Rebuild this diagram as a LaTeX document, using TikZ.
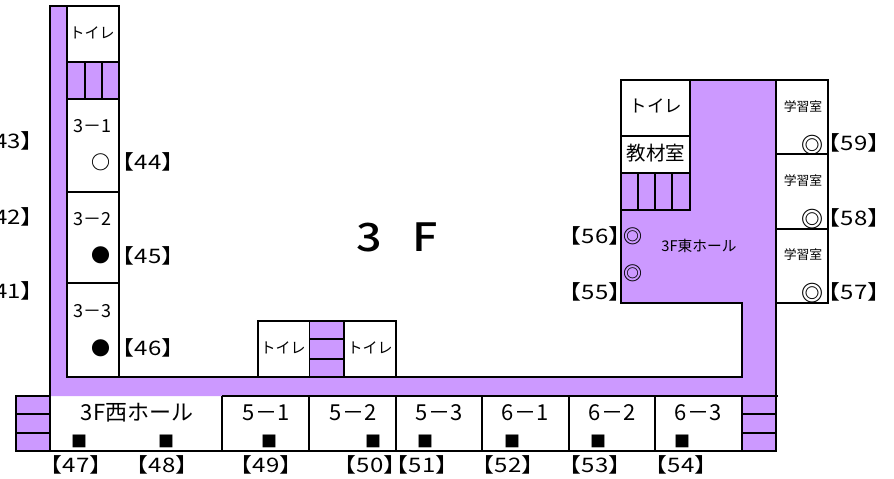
\documentclass[tikz,border=0pt]{standalone}
\usepackage{fontspec}
\setmainfont{Noto Sans CJK JP}
\newfontfamily\widefont[FakeStretch=1.2]{Noto Sans CJK JP}
\newfontfamily\titlefont[FakeStretch=1.15]{Noto Sans CJK JP Medium}
\definecolor{hallcol}{HTML}{CC99FF}
\tikzset{
  wall/.style={line width=1.7pt},
  stairs/.style={fill=hallcol, draw=black, line width=1.7pt},
  wctext/.style={inner sep=0pt, font=\fontsize{15}{15}\selectfont},
  roomtext/.style={inner sep=0pt, font=\fontsize{18}{18}\selectfont},
  classtext/.style={inner sep=0pt, font=\fontsize{22}{22}\selectfont},
  smalltext/.style={inner sep=0pt, font=\fontsize{12.8}{13}\selectfont},
  seat/.style={inner sep=0pt, font=\fontsize{19}{19}\selectfont},
  ringseat/.style={inner sep=0pt, font=\bfseries\fontsize{19}{19}\selectfont},
  bigring/.style={inner sep=0pt, font=\bfseries\fontsize{22}{22}\selectfont},
  squareseat/.style={inner sep=0pt, font=\fontsize{16}{16}\selectfont},
  seatno/.style={inner sep=0pt, font=\widefont\fontsize{20}{20}\selectfont}
}

\begin{document}
\begin{tikzpicture}[x=1pt, y=-1pt]
\useasboundingbox (0,0) rectangle (894,479);

% Corridor and halls
\fill[hallcol] (50,6) -- (67,6) -- (67,377) -- (742,377) -- (742,303) -- (621,303)
  -- (621,80) -- (776,80) -- (776,396) -- (50,396) -- cycle;

% Outer walls
\draw[wall] (50,451) -- (50,6) -- (120,6);
\draw[wall] (67,6) -- (67,377) -- (742,377) -- (742,303) -- (621,303) -- (621,80) -- (828,80);
\draw[wall] (776,80) -- (776,451);
\draw[wall] (222,396) -- (778,396);
\draw[wall] (16,451) -- (776,451);

% West wing
\draw[wall] (119,6) -- (119,377);
\draw[wall] (67,192) -- (119,192);
\draw[wall] (67,283) -- (119,283);
\draw[stairs] (67,62) rectangle (119,99);
\draw[wall] (85,62) -- (85,99);
\draw[wall] (102,62) -- (102,99);

% Middle toilets
\draw[wall] (258,377) -- (258,321) -- (396,321) -- (396,377);
\draw[stairs] (309.5,321) rectangle (344,377);
\draw[wall] (309.5,339) -- (344,339);
\draw[wall] (309.5,359) -- (344,359);

% West stairs
\draw[stairs] (16,396) rectangle (50,451);
\draw[wall] (16,414) -- (50,414);
\draw[wall] (16,433) -- (50,433);

% East stairs
\draw[stairs] (742,396) rectangle (776,451);
\draw[wall] (742,414) -- (776,414);
\draw[wall] (742,433) -- (776,433);

% Classrooms, south side
\foreach \x in {222,309,396,482,569,655}
  \draw[wall] (\x,396) -- (\x,452);

% East wing
\draw[wall, fill=white] (621,80) rectangle (690,136);
\draw[wall, fill=white] (621,136) rectangle (690,173);
\draw[stairs] (621,173) rectangle (690,210);
\foreach \x in {638,655,672}
  \draw[wall] (\x,173) -- (\x,210);
\draw[wall, fill=white] (776,80) rectangle (828,303);
\draw[wall] (776,154) -- (828,154);
\draw[wall] (776,229) -- (828,229);

% Title
\node[inner sep=0pt, font=\titlefont\fontsize{39}{39}\selectfont] (title) at (397,237) {3\hspace{30pt}F};

% Room names
\node[wctext] (wc1) at (92,33) {トイレ};
\node[roomtext] (r31) at (92,126) {3－1};
\node[roomtext] (r32) at (92,219) {3－2};
\node[roomtext] (r33) at (92,311) {3－3};
\node[wctext] (wc2) at (283,348) {トイレ};
\node[wctext] (wc3) at (370,348) {トイレ};
\node[classtext] (westhall) at (137,413) {3F西ホール};
\node[classtext] (r51) at (266,413) {5－1};
\node[classtext] (r52) at (353,413) {5－2};
\node[classtext] (r53) at (439,413) {5－3};
\node[classtext] (r61) at (525,413) {6－1};
\node[classtext] (r62) at (612,413) {6－2};
\node[classtext] (r63) at (698,413) {6－3};
\node[inner sep=0pt, font=\fontsize{17.5}{18}\selectfont] (wc4) at (656,106) {トイレ};
\node[inner sep=0pt, font=\fontsize{19.5}{20}\selectfont] (material) at (656,153) {教材室};
\node[inner sep=0pt, font=\fontsize{14.7}{15}\selectfont] (easthall) at (699,246) {3F東ホール};
\node[smalltext] (study1) at (803,107) {学習室};
\node[smalltext] (study2) at (803,181) {学習室};
\node[smalltext] (study3) at (803,255) {学習室};

% Seat marks
\node[ringseat] (m44) at (101,162) {○};
\node[seat] (m45) at (101,255) {●};
\node[seat] (m46) at (101,348) {●};
\foreach \n/\x in {47/79,48/166,49/269,50/373,51/425,52/512,53/598,54/682}
  \node[squareseat] (m\n) at (\x,441) {■};
\node[ringseat] (m55) at (633,273) {◎};
\node[ringseat] (m56) at (633,236) {◎};
\node[bigring] (m57) at (812,293) {◎};
\node[bigring] (m58) at (812,219) {◎};
\node[bigring] (m59) at (812,145) {◎};

% Seat numbers
\foreach \n/\x/\y in {44/148/162,45/148/256,46/148/348,
    47/76/465,48/162/465,49/266/465,50/370/465,51/422/465,52/508/465,53/595/465,54/681/465,
    55/595/292,56/595/236,57/854/292,58/854/218,59/854/143}
  \node[seatno] (n\n) at (\x,\y) {【\n】};
\foreach \n/\y in {43/141,42/217,41/291}
  \node[seatno, anchor=east] (n\n) at (45,\y) {【\n】};

\end{tikzpicture}
\end{document}
